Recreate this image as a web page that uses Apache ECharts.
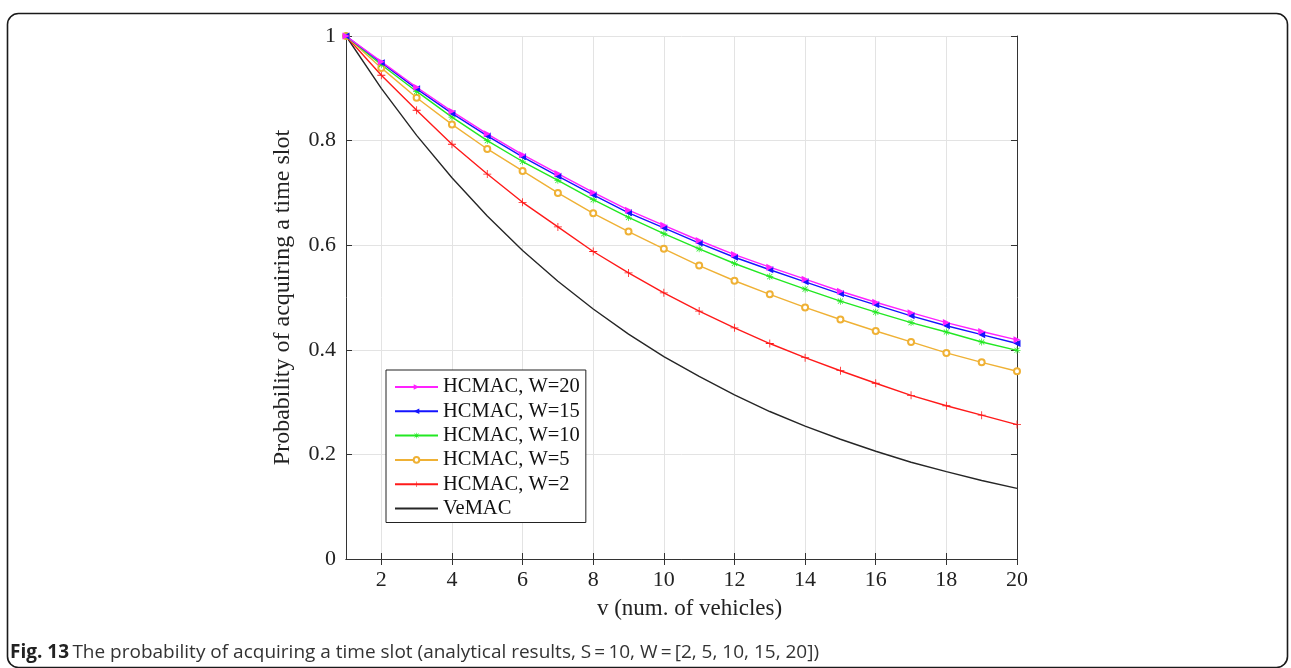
<!DOCTYPE html>
<html>
<head>
<meta charset="utf-8">
<script src="https://cdn.jsdelivr.net/npm/echarts@6/dist/echarts.min.js"></script>
<style>
html,body{margin:0;padding:0;background:#fff;}
#chart{width:1291px;height:668px;}
</style>
</head>
<body>
<div id="chart"></div>
<script>
// ---- data ----
const vehicles = ['1','2','3','4','5','6','7','8','9','10','11','12','13','14','15','16','17','18','19','20'];
const yTicks = [0, 0.2, 0.4, 0.6, 0.8, 1];
const seriesNames = ['HCMAC, W=20','HCMAC, W=15','HCMAC, W=10','HCMAC, W=5','HCMAC, W=2','VeMAC'];
const w20 = [1.000,0.951,0.902,0.856,0.813,0.773,0.737,0.701,0.667,0.638,0.609,0.582,0.558,0.535,0.512,0.491,0.471,0.452,0.435,0.419];
const w15 = [1.000,0.949,0.899,0.852,0.809,0.769,0.732,0.696,0.662,0.633,0.604,0.577,0.553,0.530,0.507,0.486,0.465,0.446,0.429,0.412];
const w10 = [1.000,0.945,0.894,0.845,0.800,0.760,0.724,0.687,0.653,0.622,0.593,0.565,0.540,0.516,0.493,0.472,0.452,0.434,0.415,0.399];
const w5  = [1.000,0.939,0.882,0.831,0.784,0.742,0.700,0.661,0.626,0.593,0.561,0.532,0.506,0.481,0.458,0.436,0.415,0.394,0.376,0.359];
const w2  = [1.000,0.925,0.858,0.793,0.736,0.682,0.635,0.588,0.547,0.509,0.474,0.442,0.412,0.385,0.360,0.336,0.313,0.293,0.275,0.257];
const vemac = [1.000,0.900,0.810,0.729,0.656,0.590,0.531,0.478,0.430,0.387,0.349,0.314,0.282,0.254,0.229,0.206,0.185,0.167,0.150,0.135];
const captionLead = 'Fig. 13';
const caption = 'The probability of acquiring a time slot (analytical results, S\u2009=\u200910, W\u2009=\u2009[2, 5, 10, 15, 20])';

// ---- chart ----
const chart = echarts.init(document.getElementById('chart'), null, {renderer:'canvas'});
const serif = 'Liberation Serif';
const evenOnly = (i) => i % 2 === 1;
const plusPath = 'path://M9,0h2v20h-2zM0,9h20v2h-20z';
const starPath = 'path://M9,0h2v20h-2zM0,9h20v2h-20zM2,3.4L3.4,2L18,16.6L16.6,18zM16.6,2L18,3.4L3.4,18L2,16.6z';

function mk(name, data, color, symbol, size, rotate, extra) {
  return Object.assign({
    name: name,
    type: 'line',
    data: data,
    xAxisIndex: 0, yAxisIndex: 0,
    symbol: symbol,
    symbolSize: size,
    symbolRotate: rotate || 0,
    showSymbol: true,
    animation: false,
    lineStyle: {color: color, width: 1.4},
    itemStyle: {color: color, borderColor: color, borderWidth: 0},
    emphasis: {disabled: true}
  }, extra || {});
}

const option = {
  animation: false,
  grid: {left: 346, right: 274, top: 36, bottom: 109, containLabel: false},
  xAxis: [{
    type: 'category', data: vehicles, boundaryGap: false, position: 'bottom',
    name: 'v (num. of vehicles)', nameLocation: 'middle', nameGap: 38,
    nameTextStyle: {fontFamily: serif, fontSize: 23, color: '#222', padding: [0, 0, 0, 16]},
    axisLine: {show: true, lineStyle: {color: '#333', width: 1}},
    axisTick: {show: true, inside: true, length: 6, interval: evenOnly, alignWithLabel: true, lineStyle: {color: '#333'}},
    axisLabel: {interval: evenOnly, fontFamily: serif, fontSize: 22, color: '#222', margin: 10},
    splitLine: {show: true, interval: evenOnly, lineStyle: {color: '#e3e3e3', width: 1}}
  }, {
    type: 'category', data: vehicles, boundaryGap: false, position: 'top',
    axisLine: {show: true, lineStyle: {color: '#333', width: 1}},
    axisTick: {show: true, inside: true, length: 6, interval: evenOnly, lineStyle: {color: '#333'}},
    axisLabel: {show: false},
    splitLine: {show: false}
  }],
  yAxis: [{
    type: 'value', min: 0, max: 1, interval: 0.2, position: 'left',
    name: 'Probability of acquiring a time slot', nameLocation: 'middle', nameGap: 51,
    nameTextStyle: {fontFamily: serif, fontSize: 24, color: '#222'},
    axisLine: {show: true, lineStyle: {color: '#333', width: 1}},
    axisTick: {show: true, inside: true, length: 6, lineStyle: {color: '#333'}},
    axisLabel: {fontFamily: serif, fontSize: 22, color: '#222', margin: 10,
      formatter: (v) => yTicks.indexOf(Math.round(v*10)/10) >= 0 ? String(Math.round(v*10)/10) : ''},
    splitLine: {show: true, lineStyle: {color: '#e3e3e3', width: 1}}
  }, {
    type: 'value', min: 0, max: 1, interval: 0.2, position: 'right',
    axisLine: {show: true, lineStyle: {color: '#333', width: 1}},
    axisTick: {show: true, inside: true, length: 6, lineStyle: {color: '#333'}},
    axisLabel: {show: false},
    splitLine: {show: false}
  }],
  legend: {
    left: 386, top: 370, orient: 'vertical',
    data: seriesNames.slice(0,5).concat([{name: seriesNames[5], itemStyle: {opacity: 0}}]),
    itemWidth: 43, itemHeight: 7, itemGap: 0.3,
    padding: [5, 6, 2, 8],
    backgroundColor: '#fff', borderColor: '#222', borderWidth: 1,
    textStyle: {fontFamily: serif, fontSize: 20.5, lineHeight: 24, color: '#111'},
    selectedMode: false
  },
  series: [
    mk(seriesNames[5], vemac, '#262626', 'none', 0),
    mk(seriesNames[4], w2, '#ff1a1a', plusPath, 8, 0, {symbolKeepAspect: true}),
    mk(seriesNames[3], w5, '#efb135', 'emptyCircle', 6, 0, {itemStyle: {color: '#efb135', borderColor: '#efb135', borderWidth: 1}}),
    mk(seriesNames[2], w10, '#22e822', starPath, 7, 0, {symbolKeepAspect: true}),
    mk(seriesNames[1], w15, '#1414ff', 'triangle', 7, 90),
    mk(seriesNames[0], w20, '#ff22ff', 'triangle', 7, -90)
  ],
  graphic: [
    {type: 'rect', silent: true, z: -10,
     shape: {x: 7.5, y: 13.5, width: 1280, height: 654, r: 11},
     style: {fill: 'none', stroke: '#1a1a1a', lineWidth: 1.6}},
    {type: 'text', left: 10, top: 643, silent: true,
     style: {
       text: '{b|' + captionLead + '} {n|' + caption + '}',
       rich: {
         b: {fontFamily: 'Open Sans', fontWeight: 'bold', fontSize: 19, fill: '#222'},
         n: {fontFamily: 'Open Sans', fontSize: 19, fill: '#333'}
       }
     }}
  ]
};
chart.setOption(option);
</script>
</body>
</html>
